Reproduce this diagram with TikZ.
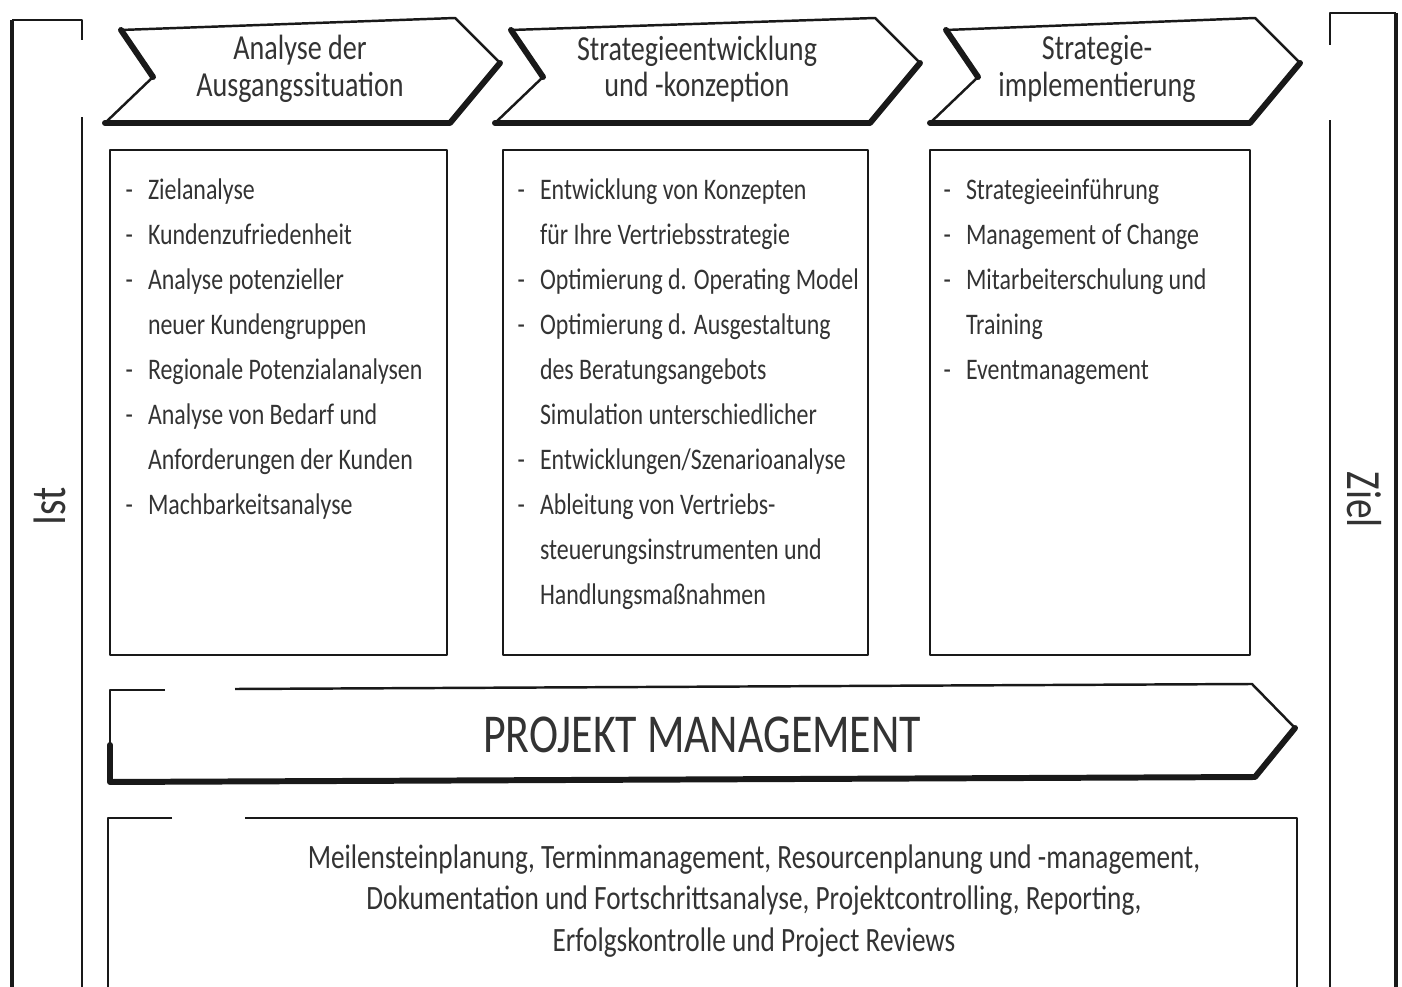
\documentclass[tikz,border=0pt]{standalone}
\usepackage{fontspec}
\setmainfont{Carlito}[FakeStretch=0.8]
\usetikzlibrary{positioning}
\tikzset{pen/.style = {line width=0.7pt, line join=round, draw=black!90},
  boldpen/.style = {line width=1.7pt, line cap=round, line join=round, draw=black!90},
  lbl/.style = {text=black!80, inner sep=0},
  headtxt/.style = {lbl, align=center, font=\fontsize{10}{10.4}\selectfont},
  listtxt/.style = {lbl, anchor=base west, font=\fontsize{8.5}{12.8}\selectfont},
  sidetxt/.style = {lbl, font=\fontsize{14}{14}\selectfont}}

\begin{document}
\begin{tikzpicture}[x=0.1mm, y=-0.1mm]
      \useasboundingbox (0,0) rectangle (1402,987);

      \draw[pen] (82,987) -- (82,117) (82,40) -- (82,20) -- (12,20);
      \draw[pen, line width=1.3pt] (12,20) -- (12,987);
      \draw[pen] (1330,987) -- (1330,120) (1330,45) -- (1330,13) -- (1396,13);
      \draw[pen, line width=1.3pt] (1396,13) -- (1396,987);
      \node[sidetxt, rotate=90] (ist) at (50,506) {Ist};
      \node[sidetxt, rotate=-90] (ziel) at (1364,500) {Ziel};

      \foreach \n/\xb/\xr/\cx/\txt in {a/105/450/300/{Analyse der\\Ausgangssituation},
          b/495/870/697/{Strategieentwicklung\\und -konzeption},
          c/930/1250/1097/{Strategie-\\implementierung}} {
        \draw[pen] (\xb+16,30) -- (\xr+5,18) -- (\xr+50,63) -- (\xr,123) -- (\xb,123) -- (\xb+48,77) -- cycle;
        \draw[boldpen] (\xb+16,30) -- (\xb+48,77) (\xr+50,63) -- (\xr,123) -- (\xb,123);
        \node[headtxt] (head-\n) at (\cx,69) {\txt};
      }

      \draw[pen] (110,150) rectangle (447,655);
      \draw[pen] (503,150) rectangle (868,655);
      \draw[pen] (930,150) rectangle (1250,655);

      \node[listtxt] (list-a) at (125,200) {\begin{tabular}[t]{@{}l@{\hspace{1.5mm}}l@{}}
        - & Zielanalyse\\
        - & Kundenzufriedenheit\\
        - & Analyse potenzieller\\
          & neuer Kundengruppen\\
        - & Regionale Potenzialanalysen\\
        - & Analyse von Bedarf und\\
          & Anforderungen der Kunden\\
        - & Machbarkeitsanalyse
      \end{tabular}};
      \node[listtxt] (list-b) at (517,200) {\begin{tabular}[t]{@{}l@{\hspace{1.5mm}}l@{}}
        - & Entwicklung von Konzepten\\
          & für Ihre Vertriebsstrategie\\
        - & Optimierung d. Operating Model\\
        - & Optimierung d. Ausgestaltung\\
          & des Beratungsangebots\\
          & Simulation unterschiedlicher\\
        - & Entwicklungen/Szenarioanalyse\\
        - & Ableitung von Vertriebs-\\
          & steuerungsinstrumenten und\\
          & Handlungsmaßnahmen
      \end{tabular}};
      \node[listtxt] (list-c) at (943,200) {\begin{tabular}[t]{@{}l@{\hspace{1.5mm}}l@{}}
        - & Strategieeinführung\\
        - & Management of Change\\
        - & Mitarbeiterschulung und\\
          & Training\\
        - & Eventmanagement
      \end{tabular}};

      \draw[pen] (165,690) -- (110,690) -- (110,782);
      \draw[pen] (235,689) -- (1252,684) -- (1295,728);
      \draw[boldpen] (1295,728) -- (1255,777) -- (110,782) -- (110,745);
      \node[lbl, font=\fontsize{15.6}{16}\selectfont] (pm) at (702,735) {PROJEKT MANAGEMENT};

      \draw[pen] (172,818) -- (108,818) -- (108,987);
      \draw[pen] (245,818) -- (1297,818) -- (1297,987);
      \node[lbl, align=center, font=\fontsize{9.7}{11.9}\selectfont] (pm-tasks) at (754,901)
        {Meilensteinplanung, Terminmanagement, Resourcenplanung und -management,\\
         Dokumentation und Fortschrittsanalyse, Projektcontrolling, Reporting,\\
         Erfolgskontrolle und Project Reviews};
    \end{tikzpicture}
\end{document}
